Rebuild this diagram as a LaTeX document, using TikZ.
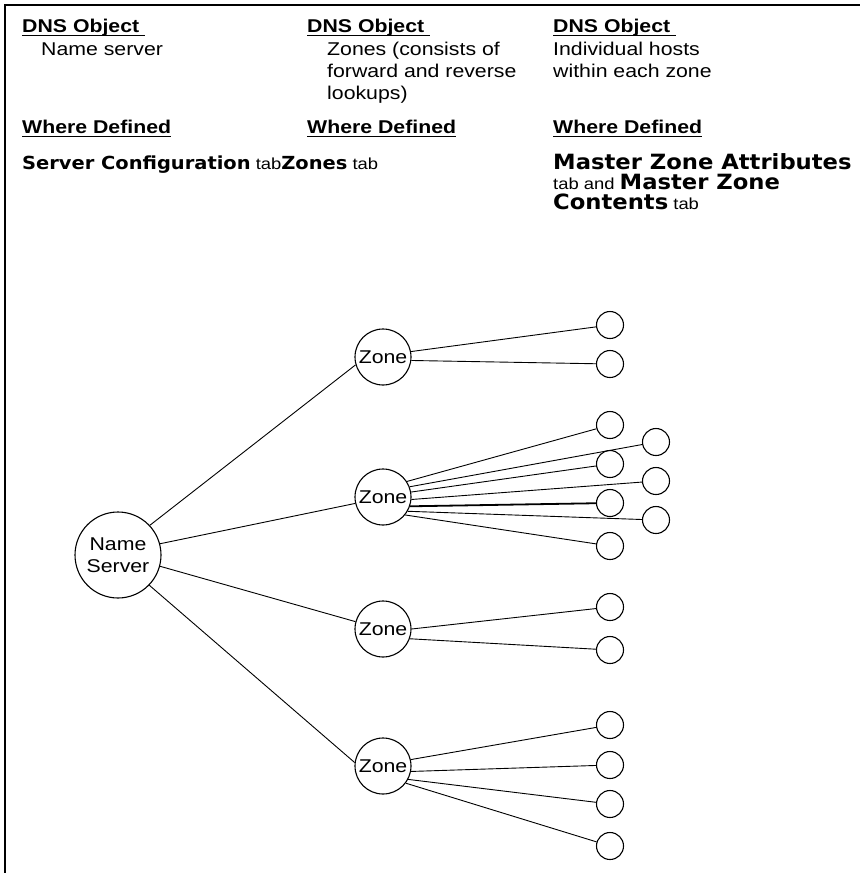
\documentclass[tikz,border=0pt]{standalone}
\usepackage{fontspec}
\setmainfont{Liberation Sans}[FakeStretch=1.15]
\newfontfamily\vfam{DejaVu Sans}[FakeStretch=1.08]
\usetikzlibrary{calc}
\newcommand{\fsz}{\fontsize{18.5}{22}\selectfont}
\newcommand{\fsr}{\fontsize{16}{20}\selectfont}
\newcommand{\vb}[1]{{\vfam\bfseries\fontsize{18}{20}\selectfont #1}}
\newcommand{\vbb}[1]{{\vfam\bfseries\fontsize{21}{20}\selectfont #1}}
\begin{document}
\begin{tikzpicture}[x=1pt,y=-1pt,
  txt/.style={inner sep=0pt, anchor=base west, font=\fsz},
  hdr/.style={txt, font=\fsz\bfseries},
  rowf/.style={inner sep=0pt, anchor=base west, font=\fsr},
  uline/.style={line width=1.3pt},
  frame/.style={line width=2.4pt},
  nsc/.style={circle, draw, line width=1.1pt, minimum size=86pt, inner sep=0pt, align=center, font=\fsz},
  zonec/.style={circle, draw, line width=1.1pt, minimum size=56pt, inner sep=0pt, font=\fsz},
  host/.style={circle, draw, line width=1.1pt, minimum size=27pt, inner sep=0pt},
  link/.style={line width=0.9pt},
  boldlink/.style={line width=1.8pt}
]
\useasboundingbox (0,0) rectangle (860,873);
% frame
\coordinate (fTL) at (5,5);
\coordinate (fTR) at (860,5);
\coordinate (fBL) at (5,873);
\draw[frame] (fBL) -- (fTL) -- (fTR);

% headers row 1
\node[hdr] (h1) at (22,32) {DNS Object};
\node[hdr] (h2) at (307,32) {DNS Object};
\node[hdr] (h3) at (553,32) {DNS Object};
\foreach \n in {h1,h2,h3}{
  \draw[uline] ($(\n.base west)+(0,3.5)$) -- ($(\n.base east)+(6,3.5)$);
}
% row 2
\node[txt] (d1) at (41,55) {Name server};
\node[txt] (d2a) at (327,55) {Zones (consists of};
\node[txt] (d2b) at (327,77) {forward and reverse};
\node[txt] (d2c) at (327,99) {lookups)};
\node[txt] (d3a) at (553,55) {Individual hosts};
\node[txt] (d3b) at (553,77) {within each zone};
% row 3
\node[hdr] (w1) at (22,133) {Where Defined};
\node[hdr] (w2) at (307,133) {Where Defined};
\node[hdr] (w3) at (553,133) {Where Defined};
\foreach \n in {w1,w2,w3}{
  \draw[uline] ($(\n.base west)+(0,3.5)$) -- ($(\n.base east)+(0,3.5)$);
}
% row 4
\node[rowf] (r1) at (22,169) {\vb{Server Configuration} tab\vb{Zones} tab};
\node[rowf] (r3a) at (553,169) {\vbb{Master Zone Attributes}};
\node[rowf] (r3b) at (553,189) {tab and \vbb{Master Zone}};
\node[rowf] (r3c) at (553,209) {\vbb{Contents} tab};

% tree
\node[nsc] (ns) at (118,555) {Name\\Server};
\node[zonec] (z1) at (383,357) {Zone};
\node[zonec] (z2) at (383,497) {Zone};
\node[zonec] (z3) at (383,629) {Zone};
\node[zonec] (z4) at (383,766) {Zone};

\node[host] (a1) at (610,325) {};
\node[host] (a2) at (610,364) {};
\node[host] (a3) at (610,425) {};
\node[host] (a4) at (610,464) {};
\node[host] (a5) at (610,503) {};
\node[host] (a6) at (610,546) {};
\node[host] (b1) at (656,442) {};
\node[host] (b2) at (656,481) {};
\node[host] (b3) at (656,520) {};
\node[host] (a7) at (610,607) {};
\node[host] (a8) at (610,650) {};
\node[host] (a9) at (610,725) {};
\node[host] (a10) at (610,765) {};
\node[host] (a11) at (610,804) {};
\node[host] (a12) at (610,846) {};

\draw[link] (ns.43) -- (z1.196);
\draw[link] (ns.15) -- (z2.193);
\draw[link] (ns.-15) -- (z3.165);
\draw[link] (ns.-44) -- (z4.173);

\draw[link] (z1.11) -- (a1);
\draw[link] (z1.-7) -- (a2);

\draw[link] (z2.33) -- (a3);
\draw[link] (z2.21) -- (b1);
\draw[link] (z2.10) -- (a4);
\draw[link] (z2.-5) -- (b2);
\draw[boldlink] (z2.-19) -- (a5);
\draw[link] (z2.-30) -- (b3);
\draw[link] (z2.-39) -- (a6);

\draw[link] (z3.0) -- (a7);
\draw[link] (z3.-20) -- (a8);

\draw[link] (z4.13) -- (a9);
\draw[link] (z4.-11) -- (a10);
\draw[link] (z4.-28) -- (a11);
\draw[link] (z4.-37) -- (a12);
\end{tikzpicture}
\end{document}
